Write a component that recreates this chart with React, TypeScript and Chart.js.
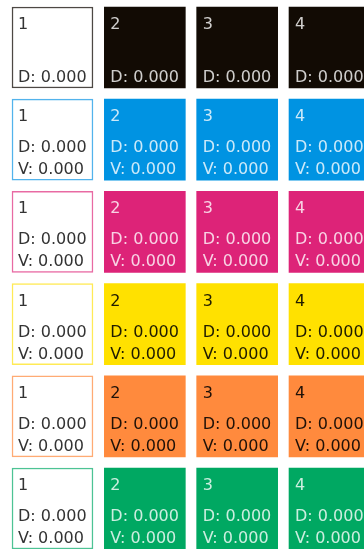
import React, { useEffect, useRef } from "react";
import { Chart, registerables } from "chart.js";

Chart.register(...registerables);

// ---- data ----
const cellNames: string[] = ["1", "2", "3", "4"];
const columnIndex: number[] = [0, 1, 2, 3];
const rowIndex: number[] = [0, 1, 2, 3, 4, 5];
const rowColors: string[] = ["#120b04", "#0093e2", "#dd2378", "#ffe100", "#ff8a3d", "#00a862"];
const rowBorderColors: string[] = ["#4d4844", "#52b3ec", "#e86aa3", "#ffea55", "#ffab74", "#4dc394"];
const rowDarkText: boolean[] = [false, false, false, true, true, false];
const dValues: number[][] = [
  [0, 0, 0, 0],
  [0, 0, 0, 0],
  [0, 0, 0, 0],
  [0, 0, 0, 0],
  [0, 0, 0, 0],
  [0, 0, 0, 0],
];
const vValues: (number[] | null)[] = [
  null,
  [0, 0, 0, 0],
  [0, 0, 0, 0],
  [0, 0, 0, 0],
  [0, 0, 0, 0],
  [0, 0, 0, 0],
];

// ---- style ----
const CELL_SPAN = 0.877;
const FONT = "16px 'DejaVu Sans'";

const labelPlugin = {
  id: "cellLabels",
  afterDatasetsDraw(chart: any) {
    const ctx = chart.ctx;
    ctx.save();
    ctx.font = FONT;
    ctx.textAlign = "left";
    ctx.textBaseline = "alphabetic";
    chart.data.datasets.forEach((ds: any, c: number) => {
      const meta = chart.getDatasetMeta(c);
      meta.data.forEach((el: any, r: number) => {
        const { x, y, base, height } = el.getProps(["x", "y", "base", "height"], true);
        const left = Math.min(x, base);
        const top = y - height / 2;
        let color: string;
        if (c === 0) color = "#333333";
        else color = rowDarkText[r] ? "rgba(0,0,0,0.88)" : "rgba(255,255,255,0.8)";
        ctx.fillStyle = color;
        ctx.fillText(cellNames[c], left + 6, top + 22);
        const v = vValues[r];
        if (v) {
          ctx.fillText("D: " + dValues[r][c].toFixed(3), left + 6, top + 53);
          ctx.fillText("V: " + v[c].toFixed(3), left + 6, top + 75);
        } else {
          ctx.fillText("D: " + dValues[r][c].toFixed(3), left + 6, top + 75);
        }
      });
    });
    ctx.restore();
  },
};

export default function App() {
  const ref = useRef<HTMLCanvasElement | null>(null);
  useEffect(() => {
    if (!ref.current) return;
    const datasets = columnIndex.map((c) => ({
      label: cellNames[c],
      data: rowIndex.map((r) => ({ x: [c, c + CELL_SPAN], y: r })),
      backgroundColor: rowIndex.map((r) => (c === 0 ? "#ffffff" : rowColors[r])),
      borderColor: rowIndex.map((r) => (c === 0 ? rowBorderColors[r] : rowColors[r])),
      borderWidth: c === 0 ? 1.5 : 0,
      borderSkipped: false,
      grouped: false,
      barThickness: 81,
    }));
    const chart = new Chart(ref.current, {
      type: "bar",
      data: { datasets } as any,
      options: {
        indexAxis: "y",
        animation: false,
        responsive: false,
        events: [],
        layout: { padding: 0 },
        plugins: { legend: { display: false }, tooltip: { enabled: false } },
        scales: {
          x: { type: "linear", min: -0.13, max: 3.812, offset: false, display: false },
          y: { type: "linear", min: -0.515, max: 5.439, reverse: true, offset: false, display: false },
        },
      } as any,
      plugins: [labelPlugin],
    });
    return () => chart.destroy();
  }, []);
  return (
    <div style={{ position: "fixed", left: 0, top: 0, width: 364, height: 549, overflow: "hidden", background: "#fff" }}>
      <canvas ref={ref} width={364} height={549} style={{ display: "block" }} />
    </div>
  );
}
